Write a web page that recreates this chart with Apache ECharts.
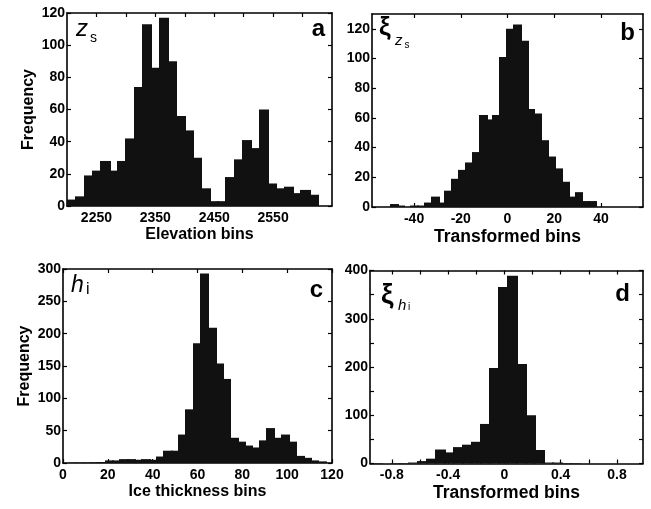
<!DOCTYPE html>
<html>
<head>
<meta charset="utf-8">
<script src="https://cdn.jsdelivr.net/npm/echarts@6/dist/echarts.min.js"></script>
<style>
  html, body { margin: 0; padding: 0; background: #fff; }
  #chart { width: 651px; height: 509px; }
</style>
</head>
<body>
<div id="chart"></div>
<script>
// histogram counts (left to right, top to bottom)
var elevationCounts = [4, 6, 19, 22, 28, 22, 28, 42, 74, 113, 86, 117, 90, 56, 47, 30, 11, 3, 3, 18, 29, 41, 36, 60, 14, 11, 12, 8, 10, 7];
var elevationRange = [2201, 2625.5];

var xiZsCounts = [2, 1, 0, 1, 1, 3, 7, 3, 11, 19, 25, 30, 37, 62, 59, 62, 101, 120, 123, 112, 66, 63, 45, 34, 26, 17, 7, 10, 4, 4];
var xiZsRange = [-50.2, 37.7];

var iceCounts = [0.5, 0.5, 0.5, 1, 1.5, 4, 4, 6, 6, 5, 6, 5, 10, 19, 19, 44, 83, 185, 293, 209, 154, 130, 39, 33, 27, 24, 35, 54, 39, 44, 33, 11, 8, 4, 2.5];
var iceRange = [2.4, 116.9];

var xiHiCounts = [1, 0, 1, 1, 2, 5, 10, 29, 23, 34, 39, 45, 82, 198, 366, 389, 206, 100, 28, 2, 2, 1, 1, 0, 0, 0, 0, 0, 0, 0];
var xiHiRange = [-0.94, 0.98];

// axis extents, ticks and labelled ticks
var elevationAxis = { min: 2200, max: 2650, ticks: [2250, 2300, 2350, 2400, 2450, 2500, 2550, 2600], labels: [2250, 2350, 2450, 2550] };
var xiZsAxis = { min: -58, max: 58, ticks: [-40, -20, 0, 20, 40], labels: [-40, -20, 0, 20, 40] };
var iceAxis = { min: 0, max: 120, ticks: [0, 20, 40, 60, 80, 100, 120], labels: [0, 20, 40, 60, 80, 100, 120] };
var xiHiAxis = { min: -0.955, max: 0.985, ticks: [-0.8, -0.6, -0.4, -0.2, 0, 0.2, 0.4, 0.6, 0.8], labels: [-0.8, -0.4, 0, 0.4, 0.8] };

var freqAxisA = { min: 0, max: 120, ticks: [0, 20, 40, 60, 80, 100, 120], labels: [0, 20, 40, 60, 80, 100, 120] };
var freqAxisB = { min: 0, max: 130, ticks: [0, 20, 40, 60, 80, 100, 120], labels: [0, 20, 40, 60, 80, 100, 120] };
var freqAxisC = { min: 0, max: 300, ticks: [0, 50, 100, 150, 200, 250, 300], labels: [0, 50, 100, 150, 200, 250, 300] };
var freqAxisD = { min: 0, max: 400, ticks: [0, 50, 100, 150, 200, 250, 300, 350, 400], labels: [0, 100, 200, 300, 400] };

var xNames = ['Elevation bins', 'Transformed bins', 'Ice thickness bins', 'Transformed bins'];
var xNameSizes = [16, 17.5, 16, 17.5];
var panelLetters = ['a', 'b', 'c', 'd'];

var FONT = '"Liberation Sans", Arial, sans-serif';
var INK = '#000';
var BAR = '#111';

var grids = [
  { left: 67, top: 13, width: 265, height: 193 },
  { left: 372, top: 14, width: 271, height: 193 },
  { left: 63, top: 269, width: 269, height: 194 },
  { left: 370, top: 270.5, width: 273, height: 193 }
];

function binData(counts, range) {
  var w = (range[1] - range[0]) / counts.length;
  return counts.map(function (c, i) {
    return [range[0] + i * w, range[0] + (i + 1) * w, c];
  });
}

// bars overlap by a pixel so neighbouring bins merge into one solid shape
function renderBar(params, api) {
  var top = api.coord([api.value(0), api.value(2)]);
  var bottom = api.coord([api.value(1), 0]);
  var x0 = Math.floor(top[0]);
  return {
    type: 'rect',
    shape: { x: x0, y: top[1], width: Math.ceil(bottom[0]) - x0 + 1, height: bottom[1] - top[1] },
    style: { fill: BAR }
  };
}

function plainNumber(v) {
  return String(v);
}

function axisLineStyle() {
  return { show: true, onZero: false, lineStyle: { color: INK, width: 1.6 } };
}

function tickStyle(ax) {
  return { inside: true, length: 4, customValues: ax.ticks, lineStyle: { color: INK, width: 1.2 } };
}

function xAxes(gridIndex, ax, name, nameSize) {
  var base = {
    type: 'value', gridIndex: gridIndex, min: ax.min, max: ax.max,
    axisLine: axisLineStyle(), splitLine: { show: false }, axisTick: tickStyle(ax)
  };
  var bottom = Object.assign({}, base, {
    position: 'bottom',
    axisLabel: { customValues: ax.labels, formatter: plainNumber, color: INK, fontSize: 14, fontWeight: 'bold', fontFamily: FONT, margin: 5 },
    name: name, nameLocation: 'middle', nameGap: 21,
    nameTextStyle: { color: INK, fontSize: nameSize, fontWeight: 'bold', fontFamily: FONT }
  });
  var top = Object.assign({}, base, { position: 'top', axisLabel: { show: false } });
  return [bottom, top];
}

function yAxes(gridIndex, ax, withName) {
  var base = {
    type: 'value', gridIndex: gridIndex, min: ax.min, max: ax.max,
    axisLine: axisLineStyle(), splitLine: { show: false }, axisTick: tickStyle(ax)
  };
  var left = Object.assign({}, base, {
    position: 'left',
    axisLabel: { customValues: ax.labels, formatter: plainNumber, color: INK, fontSize: 14, fontWeight: 'bold', fontFamily: FONT, margin: 2 }
  });
  if (withName) {
    left.name = 'Frequency';
    left.nameLocation = 'middle';
    left.nameGap = 30;
    left.nameTextStyle = { color: INK, fontSize: 16, fontWeight: 'bold', fontFamily: FONT };
  }
  var right = Object.assign({}, base, { position: 'right', axisLabel: { show: false } });
  return [left, right];
}

var xAxisList = [].concat(
  xAxes(0, elevationAxis, xNames[0], xNameSizes[0]),
  xAxes(1, xiZsAxis, xNames[1], xNameSizes[1]),
  xAxes(2, iceAxis, xNames[2], xNameSizes[2]),
  xAxes(3, xiHiAxis, xNames[3], xNameSizes[3])
);
var yAxisList = [].concat(
  yAxes(0, freqAxisA, true),
  yAxes(1, freqAxisB, false),
  yAxes(2, freqAxisC, true),
  yAxes(3, freqAxisD, false)
);

var histograms = [
  binData(elevationCounts, elevationRange),
  binData(xiZsCounts, xiZsRange),
  binData(iceCounts, iceRange),
  binData(xiHiCounts, xiHiRange)
];

var series = histograms.map(function (data, i) {
  return {
    type: 'custom',
    xAxisIndex: i * 2,
    yAxisIndex: i * 2,
    renderItem: renderBar,
    encode: { x: [0, 1], y: 2 },
    silent: true,
    z: 1,
    data: data
  };
});

// text placed by its alphabetic baseline
function label(text, x, baseline, size, opts) {
  opts = opts || {};
  return {
    type: 'text',
    x: x,
    y: baseline - 0.35 * size,
    z: 10,
    style: {
      text: text,
      fill: INK,
      font: (opts.italic ? 'italic ' : '') + (opts.bold ? 'bold ' : '') + size + 'px ' + (opts.family || FONT),
      align: opts.align || 'left',
      verticalAlign: 'middle'
    }
  };
}

var graphics = [
  label(panelLetters[0], 325, 38, 24, { bold: true, align: 'right' }),
  label(panelLetters[1], 635, 42, 24, { bold: true, align: 'right' }),
  label(panelLetters[2], 323, 299, 24, { bold: true, align: 'right' }),
  label(panelLetters[3], 630, 303, 24, { bold: true, align: 'right' }),

  label('z', 76, 38, 24, { italic: true }),
  label('s', 90, 43.5, 14),

  label('ξ', 379, 36.5, 26, { bold: true }),
  label('z', 395, 46.5, 15, { italic: true }),
  label('s', 404.5, 49, 10),

  label('h', 71, 293.5, 23, { italic: true }),
  label('i', 86, 295, 16),

  label('ξ', 381, 305.5, 28, { bold: true }),
  label('h', 398, 311.5, 15, { italic: true }),
  label('i', 408, 311, 10)
];

var chart = echarts.init(document.getElementById('chart'), null, { renderer: 'canvas' });
chart.setOption({
  animation: false,
  backgroundColor: '#fff',
  grid: grids.map(function (g) { return Object.assign({ containLabel: false }, g); }),
  xAxis: xAxisList,
  yAxis: yAxisList,
  series: series,
  graphic: graphics
});
</script>
</body>
</html>
